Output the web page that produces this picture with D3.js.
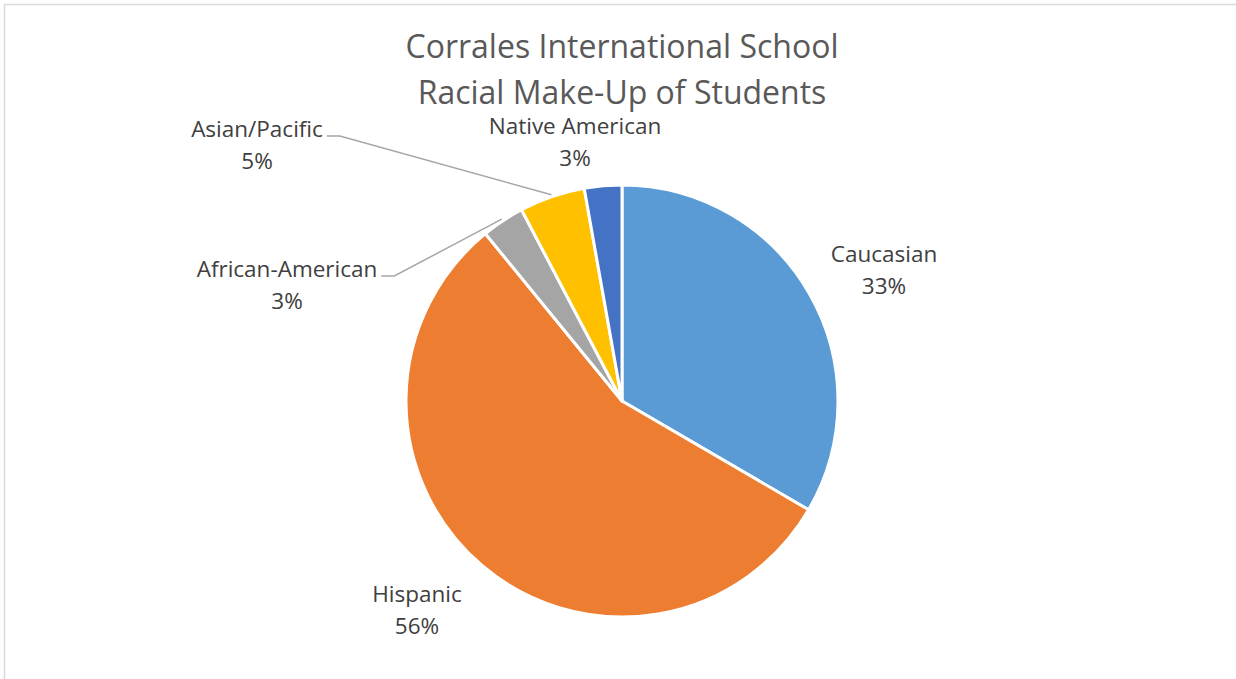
<!DOCTYPE html>
<html>
<head>
<meta charset="utf-8">
<script src="https://cdn.jsdelivr.net/npm/d3@7"></script>
<style>
  html, body { margin: 0; padding: 0; background: #fff; }
  svg { display: block; font-family: "Open Sans", Lato, sans-serif; }
</style>
</head>
<body>
<div id="chart"></div>
<script>
// chart data
var categories = ["Caucasian", "Hispanic", "African-American", "Asian/Pacific", "Native American"];
var shares = [33.4, 55.7, 3.2, 4.9, 2.8];
var colors = ["#5b9bd5", "#ed7d31", "#a5a5a5", "#ffc000", "#4472c4"];
var titleLines = ["Corrales International School", "Racial Make-Up of Students"];

// where each label sits (centre of text block) and whether it gets a leader line
var labelSpots = {
  "Caucasian": { x: 884, y: 255, leader: false },
  "Hispanic": { x: 417, y: 595, leader: false },
  "African-American": { x: 287, y: 270, leader: true },
  "Asian/Pacific": { x: 257, y: 130, leader: true },
  "Native American": { x: 575, y: 127, leader: false }
};

var width = 1236, height = 679,
  cx = 622, cy = 401, radius = 216;

var svg = d3.select("#chart").append("svg")
  .attr("width", width)
  .attr("height", height);

// chart frame (only top and left edges show in the picture)
svg.append("rect")
  .attr("x", 4.5).attr("y", 4.5)
  .attr("width", width + 20).attr("height", height + 20)
  .attr("fill", "none")
  .attr("stroke", "#d9d9d9")
  .attr("stroke-width", 1.5);

svg.append("g")
  .selectAll("text")
  .data(titleLines)
  .join("text")
  .attr("x", cx)
  .attr("y", function (d, i) { return 58 + i * 46; })
  .attr("text-anchor", "middle")
  .attr("fill", "#595959")
  .style("font-size", "32px")
  .text(function (d) { return d; });

var data = categories.map(function (c, i) {
  return { name: c, value: shares[i], color: colors[i] };
});

var pie = d3.pie().sort(null).value(function (d) { return d.value; });
var arcs = pie(data);
var total = d3.sum(shares);

var arc = d3.arc().innerRadius(0).outerRadius(radius);
var edge = d3.arc().innerRadius(radius + 2).outerRadius(radius + 2);

var g = svg.append("g").attr("transform", "translate(" + cx + "," + cy + ")");

g.selectAll("path")
  .data(arcs)
  .join("path")
  .attr("d", arc)
  .attr("fill", function (d) { return d.data.color; })
  .attr("stroke", "#fff")
  .attr("stroke-width", 3)
  .attr("stroke-linejoin", "round");

var labels = svg.append("g");

arcs.forEach(function (d) {
  var spot = labelSpots[d.data.name];
  var t = labels.append("text")
    .attr("text-anchor", "middle")
    .attr("fill", "#404040")
    .style("font-size", "22.5px");
  t.append("tspan").attr("x", spot.x).attr("y", spot.y + 7).text(d.data.name);
  t.append("tspan").attr("x", spot.x).attr("y", spot.y + 39)
    .text(Math.round(d.data.value / total * 100) + "%");

  // leader line from the end of the name to the slice edge
  if (spot.leader) {
    var tip = edge.centroid(d);
    var w = t.select("tspan").node().getComputedTextLength();
    var x0 = spot.x + w / 2 + 4, y0 = spot.y + 6;
    svg.append("polyline")
      .attr("points", [[x0, y0], [x0 + 13, y0], [tip[0] + cx, tip[1] + cy]].join(" "))
      .attr("fill", "none")
      .attr("stroke", "#a6a6a6")
      .attr("stroke-width", 1.5);
  }
});
</script>
</body>
</html>
